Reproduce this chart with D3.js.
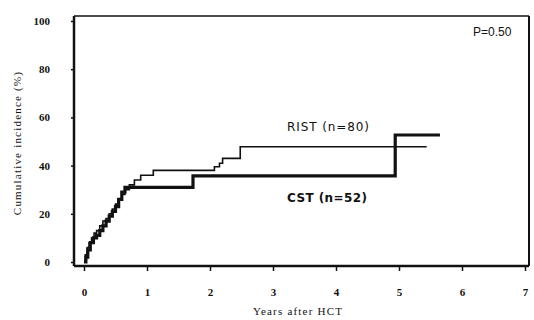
<!DOCTYPE html>
<html>
<head>
<meta charset="utf-8">
<script src="https://cdn.jsdelivr.net/npm/d3@7"></script>
<style>
  body { margin: 0; background: #fff; }
  svg { display: block; }
  .tick text { font-family: "Liberation Serif", serif; font-weight: bold; font-size: 11px; fill: #111; }
  .axis-title { font-family: "Liberation Serif", serif; font-size: 11px; letter-spacing: 1.2px; fill: #111; }
</style>
</head>
<body>
<div id="chart"></div>
<script>
// cumulative incidence (years after HCT, %)
const ristYears  = [0, 0.02, 0.05, 0.08, 0.12, 0.16, 0.2, 0.25, 0.3, 0.35, 0.4, 0.45, 0.5, 0.55, 0.6, 0.65, 0.72, 0.8, 0.9, 1.1, 2.07, 2.15, 2.2, 2.48, 5.44];
const ristValues = [0, 3, 6, 8, 10, 12, 13, 15, 17, 18, 20, 22, 24, 26, 28, 30, 32, 34, 36, 38, 39.5, 41, 43, 47.8, 47.8];
const cstYears   = [0, 0.03, 0.06, 0.1, 0.15, 0.2, 0.25, 0.3, 0.35, 0.4, 0.45, 0.5, 0.55, 0.6, 0.65, 1.73, 4.94, 5.65];
const cstValues  = [0, 2, 5, 8, 10, 11, 13, 15, 17, 19, 21, 23, 26, 29, 31, 35.7, 52.7, 52.7];
const xTicks = [0, 1, 2, 3, 4, 5, 6, 7];
const yTicks = [0, 20, 40, 60, 80, 100];

const width = 534, height = 320;
const frame = { left: 74, right: 529, top: 16, bottom: 266 };

const svg = d3.select('#chart').append('svg')
    .attr('width', width)
    .attr('height', height);

const x = d3.scaleLinear().domain([0, 7]).range([84, 525]);
const y = d3.scaleLinear().domain([0, 100]).range([262, 21]);

// frame
svg.append('line').attr('x1', frame.left).attr('x2', frame.right).attr('y1', frame.top).attr('y2', frame.top)
    .attr('stroke', '#111').attr('stroke-width', 1.6);
svg.append('line').attr('x1', frame.right).attr('x2', frame.right).attr('y1', frame.top).attr('y2', frame.bottom)
    .attr('stroke', '#111').attr('stroke-width', 2);
svg.append('line').attr('x1', frame.left).attr('x2', frame.left).attr('y1', frame.top).attr('y2', frame.bottom)
    .attr('stroke', '#111').attr('stroke-width', 2.5);
svg.append('line').attr('x1', frame.left).attr('x2', frame.right).attr('y1', frame.bottom).attr('y2', frame.bottom)
    .attr('stroke', '#111').attr('stroke-width', 2.5);

// axes
const xAxis = svg.append('g')
    .attr('transform', `translate(0,${frame.bottom})`)
    .call(d3.axisBottom(x).tickValues(xTicks).tickSize(5).tickPadding(17).tickFormat(d3.format('d')));
xAxis.select('.domain').remove();
xAxis.selectAll('.tick line').attr('stroke', '#111').attr('stroke-width', 1.5);

const yAxis = svg.append('g')
    .attr('transform', `translate(${frame.left},0)`)
    .call(d3.axisLeft(y).tickValues(yTicks).tickSize(3).tickPadding(21).tickFormat(d3.format('d')));
yAxis.select('.domain').remove();
yAxis.selectAll('.tick line').attr('stroke', '#111').attr('stroke-width', 1.5);

// axis titles
svg.append('text').attr('class', 'axis-title')
    .attr('transform', 'translate(18,143) rotate(-90)')
    .attr('text-anchor', 'middle')
    .attr('dominant-baseline', 'middle')
    .text('Cumulative incidence (%)');
svg.append('text').attr('class', 'axis-title')
    .attr('x', 298).attr('y', 315)
    .attr('text-anchor', 'middle')
    .text('Years after HCT');

// curves
const line = d3.line()
    .x(d => x(d[0]))
    .y(d => y(d[1]))
    .curve(d3.curveStepAfter);

const rist = ristYears.map((t, i) => [t, ristValues[i]]);
const cst = cstYears.map((t, i) => [t, cstValues[i]]);

svg.append('path').datum(cst)
    .attr('d', line)
    .attr('fill', 'none')
    .attr('stroke', '#111')
    .attr('stroke-width', 3.2);

svg.append('path').datum(rist)
    .attr('d', line)
    .attr('fill', 'none')
    .attr('stroke', '#111')
    .attr('stroke-width', 1.6);

// labels
svg.append('text')
    .attr('x', 287).attr('y', 131)
    .style('font-family', '"DejaVu Sans", sans-serif')
    .style('font-size', '12px')
    .style('letter-spacing', '0.9px')
    .style('fill', '#111')
    .text('RIST (n=80)');
svg.append('text')
    .attr('x', 287).attr('y', 202)
    .style('font-family', '"DejaVu Sans", sans-serif')
    .style('font-size', '12px')
    .style('font-weight', 'bold')
    .style('letter-spacing', '0.4px')
    .style('fill', '#111')
    .text('CST (n=52)');
svg.append('text')
    .attr('x', 473).attr('y', 36)
    .style('font-family', '"Liberation Sans", sans-serif')
    .style('font-size', '12px')
    .style('fill', '#111')
    .text('P=0.50');
</script>
</body>
</html>
